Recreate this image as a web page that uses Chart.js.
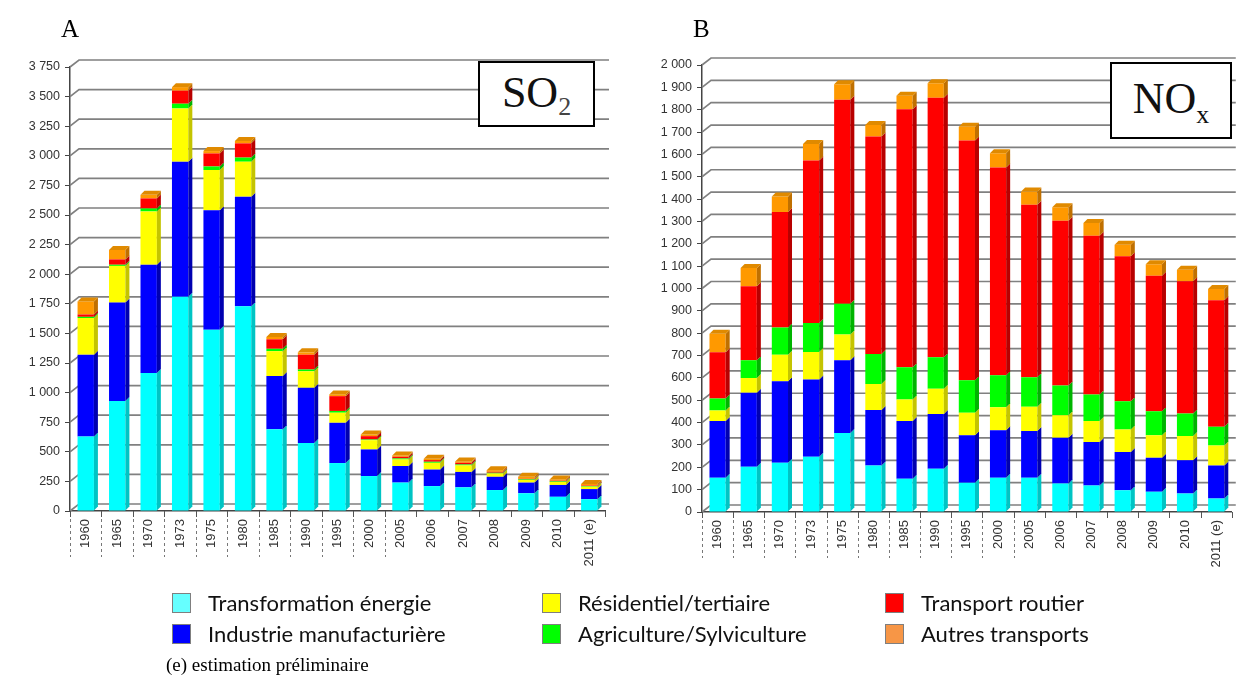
<!DOCTYPE html>
<html><head><meta charset="utf-8">
<script src="https://cdn.jsdelivr.net/npm/chart.js@4.4.1/dist/chart.umd.min.js"></script>
<style>
body{margin:0;width:1240px;height:682px;background:#fff;position:relative;overflow:hidden}
canvas{position:absolute;top:0}
.lt{position:absolute;font-family:'Liberation Serif','Times New Roman',serif;color:#000}
.box{position:absolute;border:2px solid #000;background:#fff;box-sizing:border-box;font-family:'Liberation Serif',serif;text-align:center;color:#111}
.sw{position:absolute;width:19px;height:20px;box-sizing:border-box;border:1.5px solid #7f7f7f}
.lg{position:absolute;font-family:Lato,'Open Sans',sans-serif;font-size:22px;color:#111;line-height:22px}
</style></head><body>
<canvas id="c1" width="620" height="682" style="left:0"></canvas>
<canvas id="c2" width="620" height="682" style="left:620px"></canvas>
<div class="lt" style="left:61px;top:15px;font-size:25px">A</div>
<div class="lt" style="left:693px;top:15px;font-size:25px">B</div>
<div class="box" style="left:478px;top:61px;width:117px;height:66px;font-size:44px;line-height:60px">SO<span style="font-size:26px;vertical-align:-8px;color:#444">2</span></div>
<div class="box" style="left:1110px;top:62px;width:122px;height:77px;font-size:44px;line-height:70px">NO<span style="font-size:26px;vertical-align:-10px">x</span></div>
<div id="legend"></div>
<div class="lt" style="left:166px;top:654px;font-size:19px">(e) estimation préliminaire</div>
<script>
const categories = ['1960','1965','1970','1973','1975','1980','1985','1990','1995','2000','2005','2006','2007','2008','2009','2010','2011 (e)'];
const seriesNames = ['Transformation énergie','Industrie manufacturière','Résidentiel/tertiaire','Agriculture/Sylviculture','Transport routier','Autres transports'];

const so2Transformation = [630,930,1165,1810,1530,1730,690,575,405,295,240,210,200,177,150,120,100];
const so2Industrie      = [690,830,915,1140,1010,925,450,465,340,225,140,140,130,112,90,100,85];
const so2Residentiel    = [310,310,450,450,340,295,210,140,85,78,55,57,55,28,22,25,20];
const so2Agriculture    = [10,10,25,40,30,35,20,15,15,6,9,9,8,6,5,5,5];
const so2Routier        = [20,45,85,110,110,120,80,125,125,28,14,14,14,8,5,6,5];
const so2Autres         = [110,80,30,30,20,20,20,20,15,14,11,11,12,14,17,11,13];

const noxTransformation = [153,203,220,247,354,208,149,194,131,153,153,128,119,97,91,83,60];
const noxIndustrie      = [254,330,365,346,325,248,258,245,212,213,209,204,194,171,152,149,148];
const noxResidentiel    = [47,67,119,123,115,117,96,112,101,103,109,101,94,101,100,108,90];
const noxAgriculture    = [54,79,122,130,138,134,145,141,146,143,132,133,119,127,108,101,83];
const noxRoutier        = [207,331,516,727,912,973,1154,1162,1072,929,772,737,710,648,606,591,566];
const noxAutres         = [82,82,70,74,70,52,60,64,62,64,59,60,57,52,52,52,51];

const so2TickLabels = ['0','250','500','750','1 000','1 250','1 500','1 750','2 000','2 250','2 500','2 750','3 000','3 250','3 500','3 750'];
const noxTickLabels = ['0','100','200','300','400','500','600','700','800','900','1 000','1 100','1 200','1 300','1 400','1 500','1 600','1 700','1 800','1 900','2 000'];

const barColors  = ['#00ffff','#0000ff','#ffff00','#00ff00','#ff0000','#ff9900'];
const sideColors = ['#00c4c4','#0000b0','#c4c400','#00b400','#b80000','#c07000'];
const legendColors = ['#66ffff','#0000ff','#ffff00','#00ff00','#ff0000','#f79646'];

const DEPTH = 4, GD = 7;

const plug3d = {
  id:'plug3d',
  beforeDatasetsDraw(chart){
    const ctx = chart.ctx, y = chart.scales.y, a = chart.chartArea;
    ctx.save();
    ctx.strokeStyle = '#808080'; ctx.lineWidth = 1.7;
    y.ticks.forEach(t=>{
      const py = y.getPixelForValue(t.value);
      ctx.beginPath();
      ctx.moveTo(a.left, py);
      ctx.lineTo(a.left+9, py-GD);
      ctx.lineTo(a.right+4, py-GD);
      ctx.stroke();
    });
    ctx.restore();
  },
  afterDatasetsDraw(chart){
    const ctx = chart.ctx, n = chart.data.datasets.length;
    ctx.save();
    for (let d=0; d<n; d++){
      const meta = chart.getDatasetMeta(d);
      meta.data.forEach(b=>{
        const r = b.x + b.width/2, l = b.x - b.width/2;
        ctx.fillStyle = sideColors[d];
        ctx.beginPath();
        ctx.moveTo(r, b.y); ctx.lineTo(r+DEPTH, b.y-DEPTH);
        ctx.lineTo(r+DEPTH, b.base-DEPTH); ctx.lineTo(r, b.base);
        ctx.closePath(); ctx.fill();
        if (d===n-1){
          ctx.fillStyle = '#e08a00';
          ctx.beginPath();
          ctx.moveTo(l, b.y); ctx.lineTo(l+DEPTH, b.y-DEPTH);
          ctx.lineTo(r+DEPTH, b.y-DEPTH); ctx.lineTo(r, b.y);
          ctx.closePath(); ctx.fill();
        }
      });
    }
    const a = chart.chartArea, cw = (a.right-a.left)/categories.length;
    ctx.strokeStyle = '#555'; ctx.lineWidth = 1;
    for (let i=0;i<=categories.length;i++){
      const px = Math.round(a.left + i*cw)+0.5;
      ctx.setLineDash([]);
      ctx.beginPath(); ctx.moveTo(px, a.bottom); ctx.lineTo(px, a.bottom+6); ctx.stroke();
      if (i<=10){
        ctx.strokeStyle = '#777';
        ctx.setLineDash([3,3]);
        ctx.beginPath(); ctx.moveTo(px, a.bottom+8); ctx.lineTo(px, a.bottom+46); ctx.stroke();
        ctx.strokeStyle = '#555';
      }
    }
    ctx.restore();
  }
};

function makeChart(id, data, max, step, labels, leftW, padR, padT, padB){
  const ds = data.map((v,i)=>({label:seriesNames[i], data:v, backgroundColor:barColors[i], borderWidth:0,
    categoryPercentage:1, barPercentage:0.52}));
  return new Chart(document.getElementById(id), {
    type:'bar',
    data:{labels:categories, datasets:ds},
    options:{
      responsive:false, animation:false, devicePixelRatio:1,
      layout:{padding:{left:0,right:padR,top:padT,bottom:padB}},
      plugins:{legend:{display:false}, tooltip:{enabled:false}},
      scales:{
        x:{stacked:true, grid:{display:false,drawTicks:false}, border:{display:true,color:'#444',width:1.5},
           ticks:{minRotation:90,maxRotation:90,autoSkip:false,padding:8,color:'#333',font:{family:'Liberation Sans',size:13}},
           afterFit:s=>{s.height=60;}},
        y:{stacked:true, min:0, max:max, grid:{drawOnChartArea:false,drawTicks:true,tickLength:5,color:'#444'},
           border:{display:true,color:'#444',width:1.5},
           ticks:{stepSize:step, padding:5, color:'#333', font:{family:'Liberation Sans',size:12.5},
             callback:(v,i)=>labels[i]},
           afterFit:s=>{s.width=leftW;}}
      }
    },
    plugins:[plug3d]
  });
}

makeChart('c1',[so2Transformation,so2Industrie,so2Residentiel,so2Agriculture,so2Routier,so2Autres],3750,250,so2TickLabels,70,15,67,111);
makeChart('c2',[noxTransformation,noxIndustrie,noxResidentiel,noxAgriculture,noxRoutier,noxAutres],2000,100,noxTickLabels,82,7,65,110);

const lg = document.getElementById('legend');
const cols=[172,542,885], rows=[593,624];
seriesNames.forEach((n,i)=>{
  const c = Math.floor(i/2), r = i%2;
  const s = document.createElement('div'); s.className='sw';
  s.style.left=cols[c]+'px'; s.style.top=rows[r]+'px'; s.style.background=legendColors[i];
  lg.appendChild(s);
  const t = document.createElement('div'); t.className='lg';
  t.style.left=(cols[c]+36)+'px'; t.style.top=(rows[r]-1)+'px'; t.textContent=n;
  lg.appendChild(t);
});
</script>
</body></html>
